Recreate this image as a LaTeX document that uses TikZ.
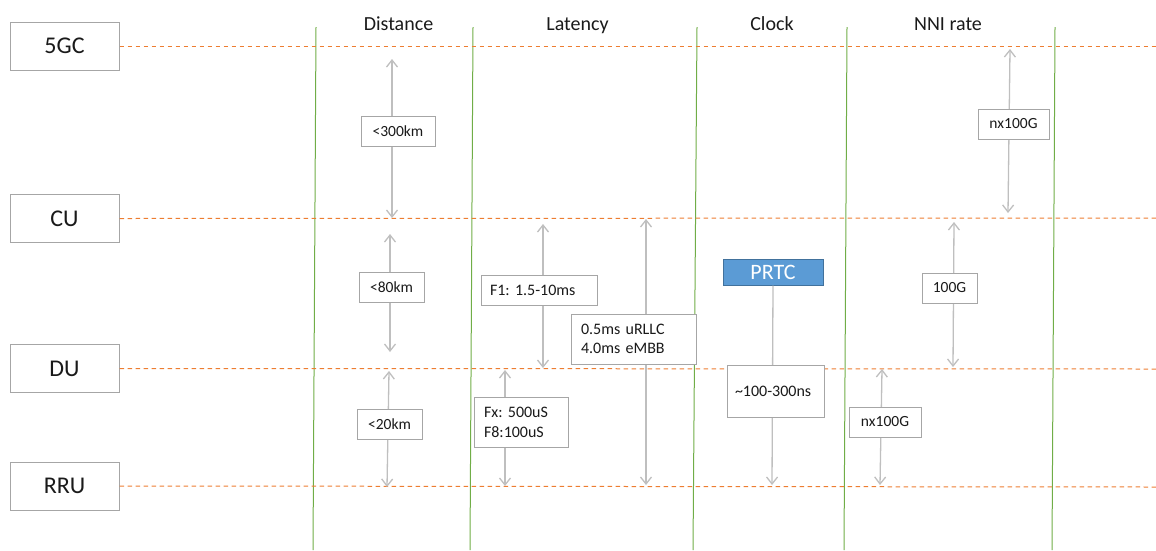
\documentclass[tikz,border=0pt]{standalone}
\usepackage{fontspec}
\setmainfont{Carlito}
\usetikzlibrary{arrows.meta}
\definecolor{dashor}{HTML}{ED7D31}
\definecolor{vgreen}{HTML}{70AD47}
\definecolor{agray}{HTML}{BFBFBF}
\definecolor{bgray}{HTML}{A6A6A6}
\definecolor{pfill}{HTML}{5B9BD5}
\definecolor{pdraw}{HTML}{41719C}
\definecolor{txt}{HTML}{1A1A1A}
\frenchspacing
\begin{document}
\begin{tikzpicture}[x=1pt,y=-1pt,
  sidebox/.style={draw=bgray,line width=1pt,fill=white,minimum width=109pt,minimum height=48pt,inner sep=0pt,text=txt,font=\fontsize{24}{28}\selectfont},
  head/.style={anchor=base,text=txt,font=\fontsize{20}{24}\selectfont},
  vline/.style={draw=vgreen,line width=1pt},
  hdash/.style={draw=dashor,line width=1pt,dash pattern=on 4.5pt off 3.5pt},
  garrow/.style={draw=agray,line width=1.3pt,{Straight Barb[length=7pt,width=11pt]}-{Straight Barb[length=7pt,width=11pt]}},
  garrowend/.style={draw=agray,line width=1.3pt,-{Straight Barb[length=7pt,width=11pt]}},
  cbox/.style={draw=bgray,line width=1pt,fill=white,inner sep=0pt,minimum height=30pt,text=txt,font=\fontsize{15.5}{19}\selectfont},
  lbox/.style={draw=bgray,line width=1pt,fill=white,inner ysep=0pt,align=left,text=txt,font=\fontsize{16}{20}\selectfont},
  prtcbox/.style={draw=pdraw,line width=1pt,fill=pfill,text=white,inner sep=0pt,minimum width=100pt,minimum height=26pt,font=\fontsize{22}{26}\selectfont}
]
\useasboundingbox (0,0) rectangle (1156,550);

% vertical green lines
\coordinate (g1t) at (316,27); \coordinate (g1b) at (313,550);
\coordinate (g2t) at (473,27); \coordinate (g2b) at (470,550);
\coordinate (g3t) at (697,27); \coordinate (g3b) at (693,550);
\coordinate (g4t) at (847,27); \coordinate (g4b) at (844,550);
\coordinate (g5t) at (1055,27); \coordinate (g5b) at (1052,550);
\draw[vline] (g1t) -- (g1b);
\draw[vline] (g2t) -- (g2b);
\draw[vline] (g3t) -- (g3b);
\draw[vline] (g4t) -- (g4b);
\draw[vline] (g5t) -- (g5b);

% left boxes
\node[sidebox] (gc) at (64.5,46) {5GC};
\node[sidebox] (cu) at (64.5,218.5) {CU};
\node[sidebox] (du) at (64.5,368.5) {DU};
\node[sidebox] (rru) at (64.5,486) {RRU};

% dashed level lines
\coordinate (e1) at (1156,46);
\coordinate (e2) at (1156,218);
\coordinate (e3) at (1156,369);
\coordinate (e4) at (1156,487);
\draw[hdash] (gc.east) -- (e1);
\draw[hdash] (cu.east) -- (e2);
\draw[hdash] (du.east) -- (e3);
\draw[hdash] (rru.east) -- (e4);

% headers
\node[head] (hdist) at (398.5,30) {Distance};
\node[head] (hlat) at (577.5,30) {Latency};
\node[head] (hclk) at (772,30) {Clock};
\node[head] (hnni) at (948,30) {NNI rate};

% Distance column
\coordinate (d1t) at (392,59); \coordinate (d1b) at (392,218);
\draw[garrow] (d1t) -- (d1b);
\node[cbox,minimum width=74pt] (d1) at (398,131) {<300km};
\coordinate (d2t) at (390,234); \coordinate (d2b) at (390,352);
\draw[garrow] (d2t) -- (d2b);
\node[cbox,minimum width=65pt] (d2) at (391.5,287) {<80km};
\coordinate (d3t) at (389,371); \coordinate (d3b) at (387,487);
\draw[garrow] (d3t) -- (d3b);
\node[cbox,minimum width=65pt] (d3) at (389.5,424) {<20km};

% Latency column
\coordinate (l1t) at (543,224); \coordinate (l1b) at (543,368);
\draw[garrow] (l1t) -- (l1b);
\node[lbox,inner xsep=9pt,text width=98pt,minimum height=30pt] (l1) at (539,290) {F1: 1.5-10ms};
\coordinate (l2t) at (646,219); \coordinate (l2b) at (646,485);
\draw[garrow] (l2t) -- (l2b);
\node[lbox,inner xsep=10pt,text width=105pt,minimum height=50pt,font=\fontsize{16}{19}\selectfont] (l2) at (633.5,339) {0.5ms uRLLC\\4.0ms eMBB};
\coordinate (l3t) at (505,370); \coordinate (l3b) at (505,486);
\draw[garrow] (l3t) -- (l3b);
\node[lbox,inner xsep=10pt,text width=74pt,minimum height=50pt] (l3) at (521,422) {Fx: 500uS\\F8:100uS};

% Clock column
\node[prtcbox] (prtc) at (773,272) {PRTC};
\coordinate (c1b) at (772,485);
\draw[garrowend] (prtc.south) -- (c1b);
\node[lbox,inner xsep=8pt,text width=81pt,minimum height=52pt] (c1) at (775.5,391) {\char`\~100-300ns};

% NNI rate column
\coordinate (n1t) at (1010,49); \coordinate (n1b) at (1008,213);
\draw[garrow] (n1t) -- (n1b);
\node[cbox,minimum width=71pt] (n1) at (1013.5,124) {nx100G};
\coordinate (n2t) at (954,222); \coordinate (n2b) at (953,367);
\draw[garrow] (n2t) -- (n2b);
\node[cbox,minimum width=55pt] (n2) at (949.5,288) {100G};
\coordinate (n3t) at (882,369); \coordinate (n3b) at (880,485);
\draw[garrow] (n3t) -- (n3b);
\node[cbox,minimum width=72pt] (n3) at (885,422) {nx100G};
\end{tikzpicture}
\end{document}
